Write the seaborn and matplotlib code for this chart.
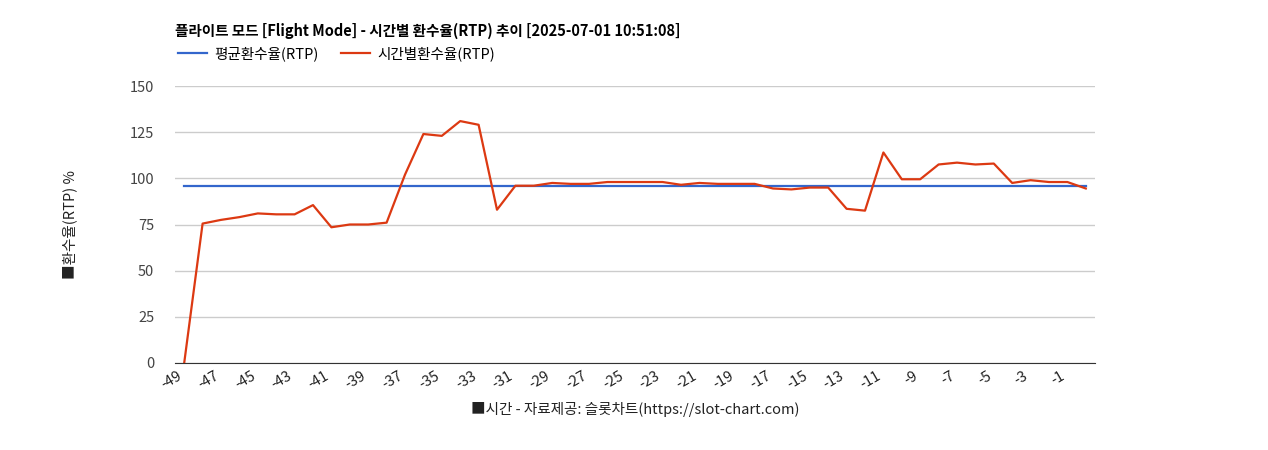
import matplotlib
matplotlib.use("Agg")
import matplotlib.pyplot as plt
from matplotlib import font_manager
import seaborn as sns
import pandas as pd

cjk = [f for f in font_manager.fontManager.ttflist if "CJK" in f.name]
pref = [f.name for f in cjk if "KR" in f.name] + [f.name for f in cjk]
if not pref:
    import glob
    for p in glob.glob("/usr/share/fonts/**/*CJK*", recursive=True):
        try:
            font_manager.fontManager.addfont(p)
        except Exception:
            pass
    cjk = [f for f in font_manager.fontManager.ttflist if "CJK" in f.name]
    pref = [f.name for f in cjk if "KR" in f.name] + [f.name for f in cjk]
plt.rcParams["font.family"] = (pref[:1] if pref else []) + ["Noto Sans CJK KR", "DejaVu Sans"]

hours = list(range(-49, 1))
rtp = [0, 75.5, 77.5, 79, 81, 80.5, 80.5, 85.5, 73.5, 75, 75, 76, 102, 124, 123, 131, 129, 83,
       96, 96, 97.5, 97, 97, 98, 98, 98, 98, 96.5, 97.5, 97, 97, 97, 94.5, 94, 95, 95, 83.5, 82.5,
       114, 99.5, 99.5, 107.5, 108.5, 107.5, 108, 97.5, 99, 98, 98, 94.5]
avg_rtp = 95.8
tick_labels = list(range(-49, 0, 2))

df = pd.DataFrame({"hour": hours, "rtp": rtp, "avg": [avg_rtp] * len(hours)})

fig = plt.figure(figsize=(12.68, 4.5), dpi=100)
ax = fig.add_axes([175/1268, 1-363/450, 920/1268, 277/450])
sns.lineplot(data=df, x="hour", y="avg", ax=ax, color="#3366cc", linewidth=1.6, label="평균환수율(RTP)")
sns.lineplot(data=df, x="hour", y="rtp", ax=ax, color="#dc3912", linewidth=1.6, label="시간별환수율(RTP)")
ax.set_xlim(-49.5, 0.5)
ax.set_ylim(0, 150)
ax.set_yticks([0, 25, 50, 75, 100, 125, 150])
ax.set_xticks(tick_labels)
ax.set_xticklabels([str(t) for t in tick_labels], rotation=30, ha="right", fontsize=10.5)
ax.tick_params(axis="y", labelsize=10.5, length=0, pad=15, labelcolor="#444444")
ax.tick_params(axis="x", length=0, pad=4, labelcolor="#222222")
ax.grid(axis="y", color="#cccccc", linewidth=1)
for s in ["top", "right", "left"]:
    ax.spines[s].set_visible(False)
ax.spines["bottom"].set_color("#333333")
ax.set_axisbelow(True)
ax.set_xlabel("■시간 - 자료제공: 슬롯차트(https://slot-chart.com)", fontstyle="italic", fontsize=10.5, labelpad=8, color="#222222")
ax.set_ylabel("■환수율(RTP) %", fontstyle="italic", fontsize=10.5, labelpad=38, color="#222222")
fig.text(175/1268, 1-31/450, "플라이트 모드 [Flight Mode] - 시간별 환수율(RTP) 추이 [2025-07-01 10:51:08]",
         fontsize=10.5, fontweight="bold", va="center")
ax.legend(loc="lower left", bbox_to_anchor=(-0.003, 1.07), ncol=2, frameon=False, fontsize=10.5,
          handlelength=2, borderaxespad=0, columnspacing=1.5, handletextpad=0.5)
fig.savefig("out.png", dpi=100)
